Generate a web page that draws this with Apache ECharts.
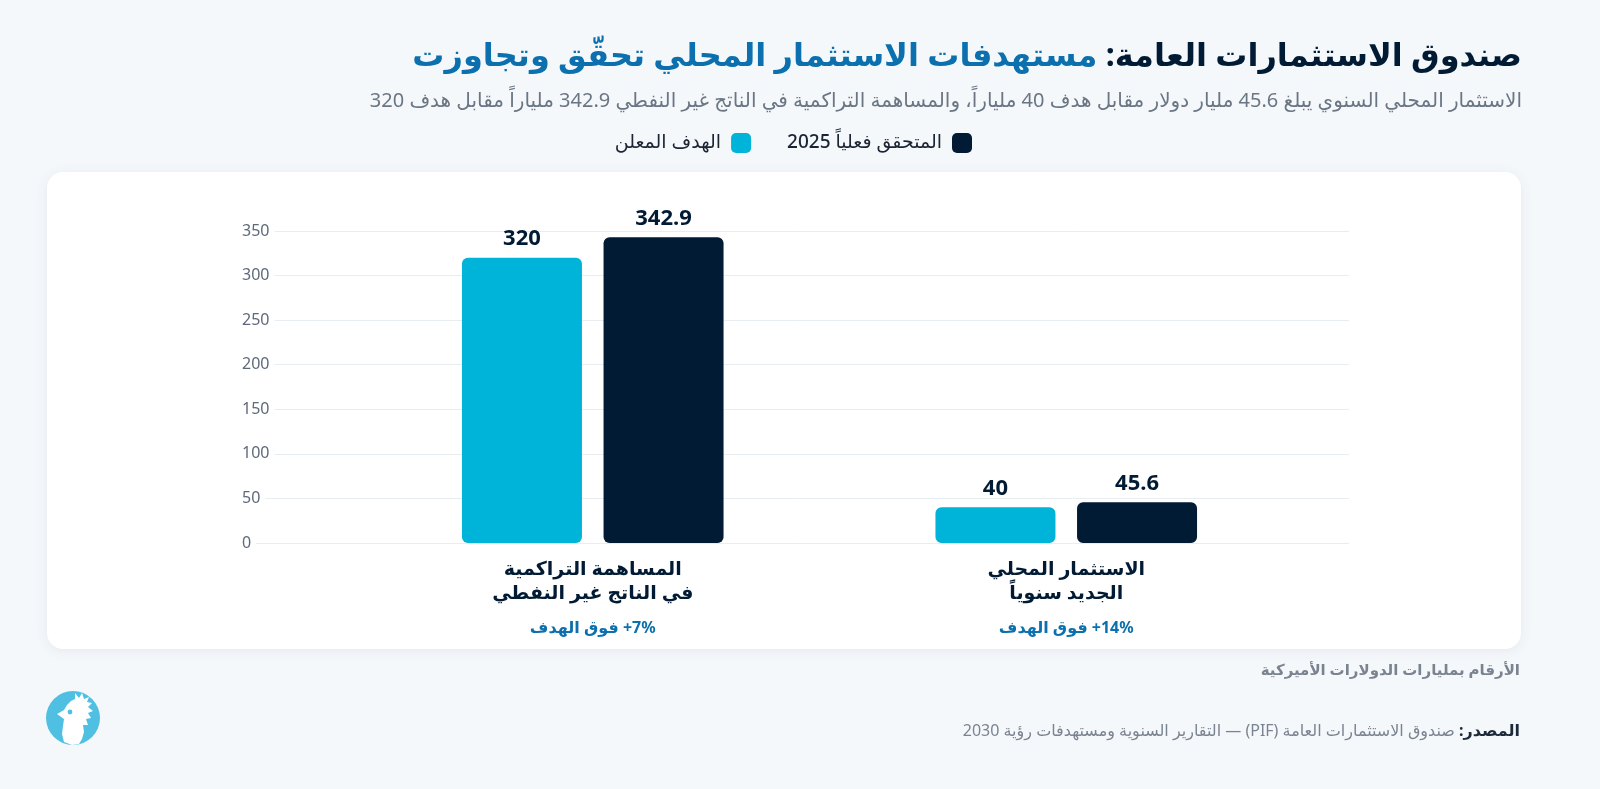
<!DOCTYPE html>
<html dir="rtl" lang="ar">
<head>
<meta charset="utf-8">
<script src="https://cdn.jsdelivr.net/npm/echarts@6/dist/echarts.min.js"></script>
<style>
html,body{margin:0;padding:0;background:#f5f8fb;}
#c{width:1600px;height:789px;}
</style>
</head>
<body>
<div id="c"></div>
<script>
const categories = ['المساهمة التراكمية\nفي الناتج غير النفطي', 'الاستثمار المحلي\nالجديد سنوياً'];
const excessLabels = ['+7% فوق الهدف', '+14% فوق الهدف'];
const targetValues = [320, 40];
const actualValues = [342.9, 45.6];
const seriesNames = ['الهدف المعلن', 'المتحقق فعلياً 2025'];
const yTicks = { min: 0, max: 350, interval: 50 };

const FONT = '"Noto Sans", "DejaVu Sans", sans-serif';
const CYAN = '#00b4d9';
const NAVY = '#021b34';
const BLUE = '#0b70ad';
const GRAY = '#6b7684';

const chart = echarts.init(document.getElementById('c'), null, { renderer: 'canvas' });

function isolateLtr(s) {
  return s.replace(/^(\+\d+%)/, '\u2066$1\u2069');
}

const option = {
  backgroundColor: '#f5f8fb',
  textStyle: { fontFamily: FONT },
  graphic: [
    { type: 'rect', z: 0, shape: { x: 47, y: 172, width: 1474, height: 477, r: 16 },
      style: { fill: '#ffffff', shadowBlur: 14, shadowColor: 'rgba(20,40,70,0.07)', shadowOffsetY: 2 } },
    { type: 'text', z: 5, style: {
        x: 1522, y: 57, align: 'right', verticalAlign: 'middle',
        text: '{b| مستهدفات الاستثمار المحلي تحقّق وتجاوزت}{d|صندوق الاستثمارات العامة:}',
        rich: {
          b: { fontSize: 32, fontWeight: 'bold', fill: BLUE, fontFamily: FONT },
          d: { fontSize: 32, fontWeight: 'bold', fill: NAVY, fontFamily: FONT }
        } } },
    { type: 'text', z: 5, style: {
        x: 1522, y: 101, align: 'right', verticalAlign: 'middle',
        text: 'الاستثمار المحلي السنوي يبلغ 45.6 مليار دولار مقابل هدف 40 ملياراً، والمساهمة التراكمية في الناتج غير النفطي 342.9 ملياراً مقابل هدف 320',
        fontSize: 20, fill: GRAY, fontFamily: FONT } },
    { type: 'text', z: 5, style: {
        x: 1520, y: 671, align: 'right', verticalAlign: 'middle',
        text: 'الأرقام بمليارات الدولارات الأميركية',
        fontSize: 15, fontWeight: 'bold', fill: '#7a8491', fontFamily: FONT } },
    { type: 'text', z: 5, style: {
        x: 1520, y: 731, align: 'right', verticalAlign: 'middle',
        text: '{g| صندوق الاستثمارات العامة (PIF) — التقارير السنوية ومستهدفات رؤية 2030}{b|المصدر:}',
        rich: {
          g: { fontSize: 16, fill: '#7a8491', fontFamily: FONT },
          b: { fontSize: 16, fontWeight: 'bold', fill: '#1d2a3a', fontFamily: FONT }
        } } },
    { type: 'circle', z: 5, shape: { cx: 73, cy: 718, r: 27 }, style: { fill: '#4fbfe2' } },
    { type: 'polygon', z: 6, shape: {
        points: [[64,742],[62,734],[63,726],[64,719],[57,714],[64,710],[67,705],[71,701],[75,699],[75,693],[79,698],[82,693],[84,699],[89,697],[87,702],[92,703],[88,707],[93,711],[88,713],[91,718],[86,719],[88,725],[83,725],[84,732],[82,739],[79,744],[72,745]]
      }, style: { fill: '#ffffff' } },
    { type: 'circle', z: 7, shape: { cx: 70, cy: 712, r: 2.4 }, style: { fill: '#4fbfe2' } }
  ],
  legend: {
    data: [seriesNames[0], seriesNames[1]],
    right: 628, top: 133, padding: 0,
    align: 'right',
    icon: 'roundRect',
    itemWidth: 20, itemHeight: 20, itemGap: 36,
    textStyle: { fontSize: 19, color: '#1a2433', fontWeight: 500, fontFamily: FONT, padding: [0, 5, 0, 0] }
  },
  grid: [
    { left: 242, right: 251, top: 231, bottom: 246 },
    { left: 356, right: 297, top: 231, bottom: 246 }
  ],
  xAxis: [
    { type: 'category', gridIndex: 0, data: ['x'], show: false },
    { type: 'category', gridIndex: 1, data: categories,
      axisLine: { show: false }, axisTick: { show: false },
      axisLabel: {
        margin: 15,
        formatter: function (v, i) {
          const lines = v.split('\n');
          return lines.map(l => '{t|' + l + '}').join('\n') + '\n{p|' + isolateLtr(excessLabels[i]) + '}';
        },
        rich: {
          t: { fontSize: 19, fontWeight: 'bold', color: NAVY, lineHeight: 24, fontFamily: FONT },
          p: { fontSize: 16, fontWeight: 'bold', color: BLUE, lineHeight: 44, fontFamily: FONT }
        }
      } }
  ],
  yAxis: [
    { type: 'value', gridIndex: 0, min: yTicks.min, max: yTicks.max, interval: yTicks.interval,
      axisLine: { show: false }, axisTick: { show: false },
      splitLine: { lineStyle: { color: '#e8edf2', width: 1 } },
      axisLabel: { inside: true, margin: 0, align: 'left', fontSize: 16, color: '#5e6a7a',
        backgroundColor: '#ffffff', padding: [2, 5, 2, 0], fontFamily: FONT } },
    { type: 'value', gridIndex: 1, min: yTicks.min, max: yTicks.max, interval: yTicks.interval, show: false,
      splitLine: { show: false } }
  ],
  series: [
    { name: seriesNames[0], type: 'bar', xAxisIndex: 1, yAxisIndex: 1, data: targetValues,
      barWidth: 120, barGap: '18%',
      itemStyle: { color: CYAN, borderRadius: 6 },
      label: { show: true, position: 'top', distance: 8, fontSize: 22, fontWeight: 'bold', color: NAVY, fontFamily: FONT } },
    { name: seriesNames[1], type: 'bar', xAxisIndex: 1, yAxisIndex: 1, data: actualValues,
      barWidth: 120, barGap: '18%',
      itemStyle: { color: NAVY, borderRadius: 6 },
      label: { show: true, position: 'top', distance: 8, fontSize: 22, fontWeight: 'bold', color: NAVY, fontFamily: FONT } }
  ]
};
chart.setOption(option);
</script>
</body>
</html>
